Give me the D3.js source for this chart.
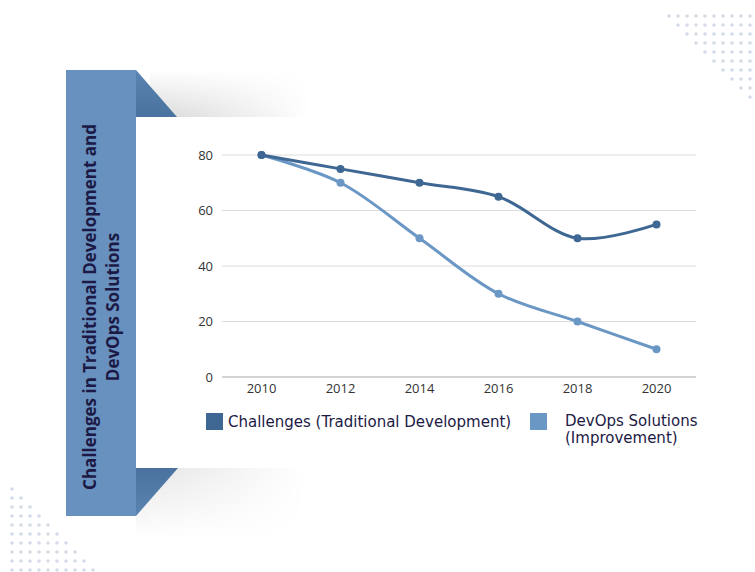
<!DOCTYPE html>
<html>
<head>
<meta charset="utf-8">
<script src="https://cdn.jsdelivr.net/npm/d3@7"></script>
<style>
  body { margin: 0; background: #fff; }
  svg { display: block; font-family: "Open Sans", sans-serif; }
</style>
</head>
<body>
<div id="chart"></div>
<script>
const years = ['2010', '2012', '2014', '2016', '2018', '2020'];
const challenges = [80, 75, 70, 65, 50, 55];
const devops = [80, 70, 50, 30, 20, 10];
const yTicks = [0, 20, 40, 60, 80];
const seriesNames = ['Challenges (Traditional Development)', 'DevOps Solutions (Improvement)'];
const titleLines = ['Challenges in Traditional Development and', 'DevOps Solutions'];

const W = 755, H = 572;
const darkBlue = '#3f6793';
const lightBlue = '#6b97c5';
const navy = '#1c1a45';

const svg = d3.select('#chart').append('svg')
  .attr('width', W)
  .attr('height', H);

const defs = svg.append('defs');

// shadow gradients (vertical fade + horizontal fade via mask)
const addGrad = (id, x1, y1, x2, y2, stops) => {
  const g = defs.append('linearGradient').attr('id', id)
    .attr('x1', x1).attr('y1', y1).attr('x2', x2).attr('y2', y2);
  stops.forEach(([o, c, a]) => g.append('stop').attr('offset', o).attr('stop-color', c).attr('stop-opacity', a));
};
addGrad('shadowUp', 0, 1, 0, 0, [[0, '#000', 0.15], [1, '#000', 0]]);
addGrad('shadowDown', 0, 0, 0, 1, [[0, '#000', 0.1], [1, '#000', 0]]);
addGrad('fadeX', 0, 0, 1, 0, [[0, '#fff', 1], [0.35, '#fff', 0.7], [1, '#fff', 0]]);
addGrad('triTop', 0, 0, 0, 1, [[0, '#5b84b2', 1], [1, '#4b729e', 1]]);
addGrad('triBot', 0, 0, 0, 1, [[0, '#4b729e', 1], [1, '#5b84b2', 1]]);

defs.append('mask').attr('id', 'maskX').attr('maskContentUnits', 'objectBoundingBox')
  .append('rect').attr('width', 1).attr('height', 1).attr('fill', 'url(#fadeX)');

// dotted decorations
const dots = svg.append('g').attr('fill', '#d5dce7');
for (let r = 0; r < 10; r++) {
  for (let c = r; c < 10; c++) {
    dots.append('circle').attr('cx', 669 + c * 9).attr('cy', 16 + r * 9).attr('r', 1.8);
  }
  for (let c = 0; c <= r; c++) {
    dots.append('circle').attr('cx', 12 + c * 9).attr('cy', 489 + r * 9).attr('r', 1.8);
  }
}

// card shadows
svg.append('rect').attr('x', 150).attr('y', 70).attr('width', 160).attr('height', 47)
  .attr('fill', 'url(#shadowUp)').attr('mask', 'url(#maskX)');
svg.append('rect').attr('x', 136).attr('y', 468).attr('width', 170).attr('height', 70)
  .attr('fill', 'url(#shadowDown)').attr('mask', 'url(#maskX)');
svg.append('rect').attr('x', 136).attr('y', 117).attr('width', 600).attr('height', 351).attr('fill', '#fff');

// side panel
svg.append('polygon').attr('points', '136,70 177,117 136,117').attr('fill', 'url(#triTop)');
svg.append('polygon').attr('points', '136,468 178,468 136,516').attr('fill', 'url(#triBot)');
svg.append('rect').attr('x', 66).attr('y', 70).attr('width', 70).attr('height', 446).attr('fill', '#6891bf');

const title = svg.append('text')
  .attr('transform', 'translate(101,307) rotate(-90)')
  .attr('text-anchor', 'middle')
  .attr('fill', navy)
  .style('font-size', '17px')
  .style('font-weight', 700);
titleLines.forEach((t, i) => {
  title.append('tspan').attr('x', 0).attr('y', i === 0 ? -5 : 18).text(t);
});

// plot
const x = d3.scaleBand().domain(years).range([222, 696]);
const y = d3.scaleLinear().domain([0, 80]).range([377, 155]);

svg.append('g').selectAll('line')
  .data(yTicks.filter(d => d > 0))
  .join('line')
  .attr('x1', 222).attr('x2', 696)
  .attr('y1', d => y(d)).attr('y2', d => y(d))
  .attr('stroke', '#dcdcdc').attr('stroke-width', 1);

svg.append('line').attr('x1', 222).attr('x2', 696).attr('y1', y(0)).attr('y2', y(0))
  .attr('stroke', '#aaa').attr('stroke-width', 1);

svg.append('g').selectAll('text')
  .data(yTicks)
  .join('text')
  .attr('x', 213).attr('y', d => y(d)).attr('dy', '0.35em')
  .attr('text-anchor', 'end')
  .attr('fill', '#333')
  .style('font-size', '13px')
  .text(d => d);

svg.append('g').selectAll('text')
  .data(years)
  .join('text')
  .attr('x', d => x(d) + x.bandwidth() / 2).attr('y', 393)
  .attr('text-anchor', 'middle')
  .attr('fill', '#333')
  .style('font-size', '13px')
  .text(d => d);

const line = d3.line()
  .x((d, i) => x(years[i]) + x.bandwidth() / 2)
  .y(d => y(d))
  .curve(d3.curveCatmullRom.alpha(0.5));

[[devops, lightBlue], [challenges, darkBlue]].forEach(([vals, color]) => {
  svg.append('path').datum(vals)
    .attr('d', line)
    .attr('fill', 'none')
    .attr('stroke', color)
    .attr('stroke-width', 3);
  svg.append('g').selectAll('circle')
    .data(vals)
    .join('circle')
    .attr('cx', (d, i) => x(years[i]) + x.bandwidth() / 2)
    .attr('cy', d => y(d))
    .attr('r', 4)
    .attr('fill', color);
});

// legend
const legend = svg.append('g')
  .style('font-family', '"DejaVu Sans", sans-serif')
  .style('font-size', '15px')
  .attr('fill', navy);
legend.append('rect').attr('x', 206).attr('y', 413).attr('width', 17).attr('height', 17).attr('fill', darkBlue);
legend.append('text').attr('x', 228).attr('y', 427).text(seriesNames[0]);
legend.append('rect').attr('x', 530).attr('y', 413).attr('width', 17).attr('height', 17).attr('fill', lightBlue);
const l2 = legend.append('text').attr('x', 565).attr('y', 426);
l2.append('tspan').attr('x', 565).text('DevOps Solutions');
l2.append('tspan').attr('x', 565).attr('dy', 17).text('(Improvement)');
</script>
</body>
</html>
